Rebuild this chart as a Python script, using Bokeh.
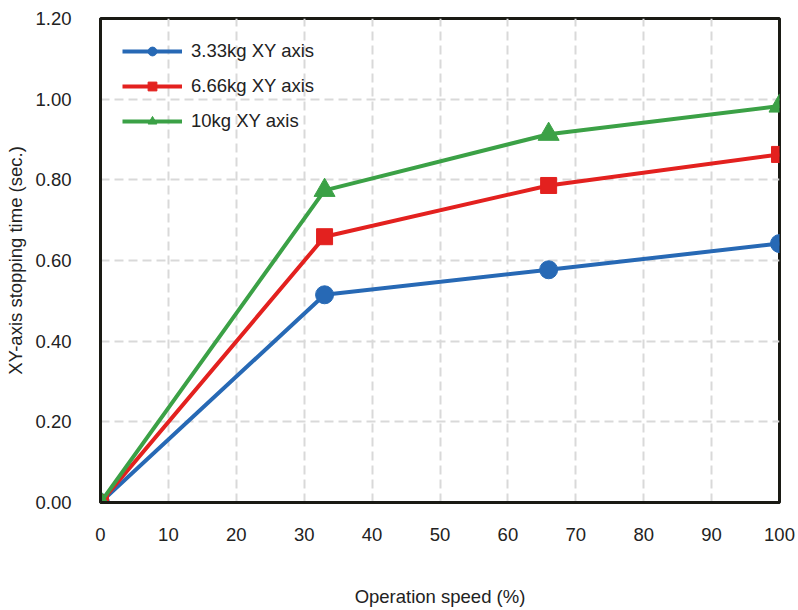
from bokeh.plotting import figure
from bokeh.models import FixedTicker, NumeralTickFormatter, Range1d
from bokeh.embed import file_html
from bokeh.resources import INLINE

speed = [0, 33, 66, 100]
mass_333 = [0.0, 0.515, 0.577, 0.642]
mass_666 = [0.0, 0.659, 0.786, 0.863]
mass_10 = [0.0, 0.774, 0.913, 0.983]
x_ticks = [0, 10, 20, 30, 40, 50, 60, 70, 80, 90, 100]
y_ticks = [0.0, 0.2, 0.4, 0.6, 0.8, 1.0, 1.2]

FONT = "Liberation Sans"
FS = "18.5px"

p = figure(width=798, height=610, output_backend="svg", toolbar_location=None,
           x_range=Range1d(0, 100), y_range=Range1d(0, 1.2),
           min_border_left=100, min_border_right=19, min_border_top=18, min_border_bottom=108)

series = [
    (mass_333, "#2769b5", "circle", 18, "3.33kg XY axis"),
    (mass_666, "#e3211f", "square", 16, "6.66kg XY axis"),
    (mass_10, "#3ba146", "triangle", 21, "10kg XY axis"),
]
for ys, col, mk, sz, lab in series:
    p.line(speed, ys, line_color=col, line_width=4, legend_label=lab)
    p.scatter(speed, ys, marker=mk, size=sz, fill_color=col, line_color=col, legend_label=lab)

p.xaxis.ticker = FixedTicker(ticks=x_ticks)
p.yaxis.ticker = FixedTicker(ticks=y_ticks)
p.yaxis.formatter = NumeralTickFormatter(format="0.00")

for ax in (p.xaxis, p.yaxis):
    ax.major_tick_line_color = None
    ax.minor_tick_line_color = None
    ax.major_tick_out = 0
    ax.major_tick_in = 0
    ax.axis_line_color = "#1a1a14"
    ax.axis_line_width = 3
    ax.major_label_text_font = FONT
    ax.major_label_text_font_size = FS
    ax.major_label_text_color = "#222222"
    ax.axis_label_text_font = FONT
    ax.axis_label_text_font_size = FS
    ax.axis_label_text_font_style = "normal"
    ax.axis_label_text_color = "#222222"

p.xaxis.axis_label = "Operation speed (%)"
p.yaxis.axis_label = "XY-axis stopping time (sec.)"
p.xaxis.major_label_standoff = 25
p.xaxis.axis_label_standoff = 42
p.yaxis.major_label_standoff = 29
p.yaxis.axis_label_standoff = 6

p.outline_line_color = "#1a1a14"
p.outline_line_width = 3
p.outline_line_alpha = 1

p.grid.grid_line_color = "#d9d9d9"
p.grid.grid_line_width = 2
p.grid.grid_line_dash = "9 5"

p.legend.location = "top_left"
p.legend.margin = 22
p.legend.padding = 0
p.legend.border_line_color = None
p.legend.background_fill_alpha = 0
p.legend.glyph_width = 60
p.legend.glyph_height = 22
p.legend.spacing = 13
p.legend.label_standoff = 9
p.legend.label_text_font = FONT
p.legend.label_text_font_size = FS
p.legend.label_text_color = "#222222"

open("out.html", "w").write(file_html(p, INLINE))
